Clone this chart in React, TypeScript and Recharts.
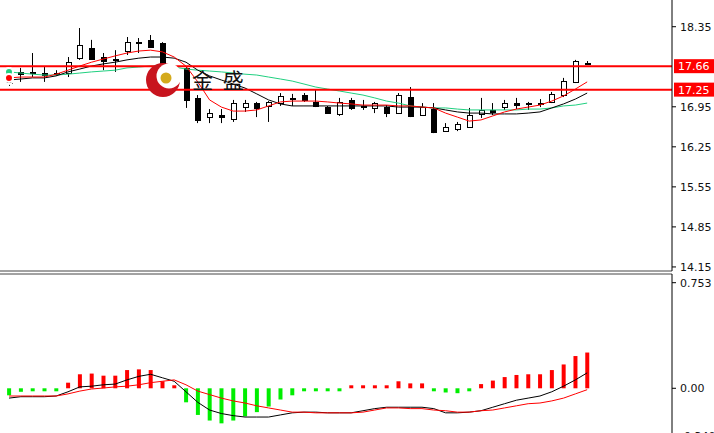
import React from 'react';
import { ComposedChart, Bar, Line, XAxis, YAxis, ReferenceLine, Cell } from 'recharts';

// OHLC, one entry per candle
const opens = [17.365, 17.56, 17.55, 17.54, 17.535, 17.54, 17.8, 17.98, 17.82, 17.785, 17.925, 18.075, 18.12, 18.065, 17.54, 17.63, 17.105, 16.77, 16.805, 16.735, 16.945, 17.015, 16.965, 17.015, 17.105, 17.155, 17.035, 16.945, 16.825, 17.07, 16.965, 16.93, 16.945, 16.84, 17.12, 16.805, 16.91, 16.525, 16.56, 16.595, 16.825, 16.895, 16.945, 17.015, 17.0, 17.01, 17.035, 17.155, 17.385, 17.715];
const highs = [17.645, 17.63, 17.89, 17.645, 17.59, 17.82, 18.327, 18.12, 17.89, 17.94, 18.17, 18.152, 18.205, 18.08, 17.645, 17.645, 17.155, 16.91, 16.91, 17.07, 17.07, 17.035, 17.05, 17.19, 17.175, 17.19, 17.245, 16.965, 17.105, 17.105, 17.07, 17.035, 16.98, 17.19, 17.295, 17.015, 17.015, 16.665, 16.685, 16.93, 17.105, 17.015, 17.07, 17.105, 17.035, 17.085, 17.21, 17.455, 17.77, 17.75];
const lows = [17.315, 17.385, 17.47, 17.385, 17.49, 17.47, 17.77, 17.77, 17.59, 17.56, 17.855, 17.89, 17.98, 17.505, 17.49, 16.93, 16.665, 16.665, 16.665, 16.685, 16.86, 16.77, 16.685, 16.965, 16.965, 17.035, 16.945, 16.825, 16.79, 16.895, 16.895, 16.84, 16.77, 16.835, 16.77, 16.8, 16.49, 16.51, 16.525, 16.58, 16.755, 16.805, 16.895, 16.91, 16.895, 16.945, 17.015, 17.12, 17.365, 17.68];
const closes = [17.54, 17.52, 17.53, 17.505, 17.545, 17.73, 18.03, 17.785, 17.75, 17.77, 18.08, 18.07, 17.995, 17.59, 17.59, 17.07, 16.72, 16.84, 16.77, 17.015, 17.015, 16.93, 17.035, 17.14, 17.085, 17.07, 16.965, 16.84, 17.035, 16.93, 16.945, 17.015, 16.84, 17.155, 16.79, 16.945, 16.51, 16.595, 16.65, 16.805, 16.895, 16.86, 17.015, 16.98, 17.01, 17.02, 17.175, 17.4, 17.75, 17.7];

// moving averages
const maRed = [17.455, 17.47, 17.47, 17.47, 17.52, 17.59, 17.663, 17.73, 17.785, 17.84, 17.89, 17.925, 17.94, 17.91, 17.82, 17.66, 17.385, 17.07, 16.945, 16.875, 16.875, 16.895, 16.965, 17.035, 17.05, 17.05, 17.05, 17.035, 17.015, 17.0, 16.98, 16.98, 16.98, 16.965, 16.965, 16.945, 16.93, 16.84, 16.77, 16.7, 16.72, 16.79, 16.86, 16.91, 16.945, 16.98, 17.05, 17.14, 17.26, 17.385];
const maBlack = [17.418, 17.436, 17.455, 17.455, 17.49, 17.56, 17.61, 17.663, 17.7, 17.73, 17.77, 17.8, 17.82, 17.82, 17.8, 17.73, 17.59, 17.49, 17.418, 17.348, 17.278, 17.175, 17.07, 17.0, 16.965, 16.965, 16.965, 16.965, 16.965, 16.965, 16.965, 16.965, 16.965, 16.945, 16.945, 16.945, 16.93, 16.895, 16.86, 16.84, 16.84, 16.825, 16.825, 16.825, 16.84, 16.86, 16.93, 17.0, 17.085, 17.19];
const maGreen = [17.56, 17.54, 17.52, 17.505, 17.505, 17.52, 17.54, 17.56, 17.575, 17.59, 17.63, 17.645, 17.663, 17.663, 17.645, 17.61, 17.59, 17.575, 17.56, 17.54, 17.52, 17.505, 17.47, 17.436, 17.4, 17.348, 17.295, 17.26, 17.226, 17.19, 17.155, 17.105, 17.05, 17.015, 16.965, 16.945, 16.93, 16.93, 16.91, 16.895, 16.895, 16.895, 16.895, 16.895, 16.91, 16.91, 16.93, 16.965, 16.98, 17.015];

// MACD panel
const macdHist = [-0.05, -0.025, -0.008, -0.008, -0.008, 0.04, 0.1, 0.105, 0.09, 0.09, 0.13, 0.135, 0.13, 0.05, 0.01, -0.1, -0.19, -0.23, -0.25, -0.23, -0.2, -0.17, -0.13, -0.08, -0.05, -0.01, -0.01, -0.015, -0.005, 0.005, 0.005, 0.02, 0.015, 0.05, 0.035, 0.035, -0.015, -0.03, -0.035, -0.01, 0.03, 0.055, 0.08, 0.095, 0.1, 0.1, 0.13, 0.17, 0.23, 0.255];
const macdLine = [-0.07, -0.06, -0.06, -0.06, -0.055, -0.025, 0.01, 0.015, 0.025, 0.03, 0.06, 0.085, 0.1, 0.075, 0.05, -0.025, -0.1, -0.155, -0.18, -0.195, -0.205, -0.205, -0.205, -0.19, -0.175, -0.17, -0.17, -0.175, -0.175, -0.175, -0.16, -0.145, -0.135, -0.135, -0.135, -0.135, -0.145, -0.175, -0.175, -0.17, -0.16, -0.135, -0.11, -0.085, -0.07, -0.055, -0.025, 0.015, 0.06, 0.11];
const macdSignal = [-0.055, -0.055, -0.055, -0.055, -0.055, -0.04, -0.02, -0.005, 0.002, 0.01, 0.015, 0.025, 0.04, 0.05, 0.06, 0.025, -0.02, -0.045, -0.07, -0.09, -0.105, -0.125, -0.14, -0.155, -0.17, -0.17, -0.175, -0.175, -0.175, -0.175, -0.17, -0.155, -0.14, -0.14, -0.145, -0.145, -0.155, -0.16, -0.17, -0.17, -0.16, -0.155, -0.14, -0.125, -0.11, -0.105, -0.09, -0.07, -0.04, -0.01];

const priceTicks = [14.15, 14.85, 15.55, 16.25, 16.95, 18.35];
const levelLines = [17.66, 17.25];
const macdTicks = [0.753, 0, -0.34];
const macdTickLabels = ['0.753', '0.00', '-0.340'];

const candles = opens.map((open, i) => ({
  i,
  open,
  high: highs[i],
  low: lows[i],
  close: closes[i],
  maRed: maRed[i],
  maBlack: maBlack[i],
  maGreen: maGreen[i],
}));

const macdRows = macdHist.map((hist, i) => ({ i, hist, macd: macdLine[i], signal: macdSignal[i] }));

const tickStyle = { fontFamily: 'DejaVu Sans', fontSize: 11, fill: '#111' };
const xDomain = [-0.763, 56.19];

const Candle = (props: any) => {
  const { x, y, width, height, payload } = props;
  if (!payload) return null;
  const { open, close, high, low } = payload;
  const h = Math.abs(height);
  const ratio = high - low > 0 ? h / (high - low) : 0;
  const cx = Math.round(x + width / 2) + 0.5;
  const yo = y + (high - open) * ratio;
  const yc = y + (high - close) * ratio;
  const top = Math.round(Math.min(yo, yc)) + 0.5;
  const bh = Math.max(Math.round(Math.abs(yo - yc)), 1);
  const bull = close >= open;
  return (
    <g>
      <line x1={cx} x2={cx} y1={y} y2={y + h} stroke="#000" strokeWidth={1} />
      <rect x={cx - 2} y={top} width={5} height={bh} fill={bull ? '#fff' : '#000'} stroke="#000" strokeWidth={1} />
    </g>
  );
};

const LevelLabel = (props: any) => {
  const { viewBox, value } = props;
  if (!viewBox) return null;
  const x = viewBox.x + viewBox.width + 2;
  return (
    <g>
      <rect x={x} y={viewBox.y - 7} width={44} height={14} fill="#ff0000" />
      <text x={x + 4} y={viewBox.y + 4} fill="#fff" style={{ fontFamily: 'DejaVu Sans', fontSize: 11 }}>
        {value}
      </text>
    </g>
  );
};

export default function App() {
  return (
    <div style={{ position: 'fixed', left: 0, top: 0, width: 714, height: 433, overflow: 'hidden', background: '#fff' }}>
      <div style={{ position: 'absolute', left: 0, top: 0 }}>
        <ComposedChart width={714} height={280} data={candles} margin={{ top: 0, right: 0, left: 0, bottom: 8 }}>
          <XAxis dataKey="i" type="number" domain={xDomain} allowDataOverflow tick={false} tickLine={false} height={1} axisLine={{ stroke: '#444', strokeWidth: 1 }} />
          <YAxis
            orientation="right"
            width={42}
            type="number"
            domain={[14.079, 18.817]}
            allowDataOverflow
            ticks={priceTicks}
            interval={0}
            tick={tickStyle}
            tickSize={4}
            tickMargin={4}
            tickFormatter={(v: number) => v.toFixed(2)}
            axisLine={{ stroke: '#000' }}
            tickLine={{ stroke: '#000' }}
          />
          <Bar dataKey={(d: any) => [d.low, d.high]} barSize={5} shape={(p: any) => <Candle {...p} />} isAnimationActive={false} />
          <Line type="linear" dataKey="maGreen" stroke="#20d080" strokeWidth={1} dot={false} isAnimationActive={false} />
          <Line type="linear" dataKey="maBlack" stroke="#000" strokeWidth={1} dot={false} isAnimationActive={false} />
          <Line type="linear" dataKey="maRed" stroke="#ff0000" strokeWidth={1} dot={false} isAnimationActive={false} />
          {levelLines.map((v) => (
            <ReferenceLine key={v} y={v} stroke="#ff0000" strokeWidth={2} label={<LevelLabel value={v.toFixed(2)} />} />
          ))}
        </ComposedChart>
      </div>
      <div style={{ position: 'absolute', left: 0, top: 272 }}>
        <ComposedChart width={714} height={170} data={macdRows} margin={{ top: 1, right: 0, left: 0, bottom: 0 }}>
          <XAxis dataKey="i" type="number" orientation="top" domain={xDomain} allowDataOverflow tick={false} tickLine={false} height={1} axisLine={{ stroke: '#444', strokeWidth: 1 }} />
          <YAxis
            orientation="right"
            width={42}
            type="number"
            domain={[-0.383, 0.815]}
            allowDataOverflow
            ticks={macdTicks}
            interval={0}
            tick={tickStyle}
            tickSize={4}
            tickMargin={4}
            tickFormatter={(v: number) => macdTickLabels[macdTicks.indexOf(v)] ?? String(v)}
            axisLine={{ stroke: '#000' }}
            tickLine={{ stroke: '#000' }}
          />
          <Bar dataKey="hist" barSize={4} minPointSize={3} isAnimationActive={false}>
            {macdRows.map((r) => (
              <Cell key={r.i} fill={r.hist >= 0 ? '#ff0000' : '#00ee00'} />
            ))}
          </Bar>
          <Line type="linear" dataKey="macd" stroke="#000" strokeWidth={1} dot={false} isAnimationActive={false} />
          <Line type="linear" dataKey="signal" stroke="#ff0000" strokeWidth={1} dot={false} isAnimationActive={false} />
        </ComposedChart>
      </div>
      <svg width={714} height={433} style={{ position: 'absolute', left: 0, top: 0, pointerEvents: 'none' }}>
        <circle cx={163} cy={80} r={17} fill="#c8141e" />
        <circle cx={169} cy={76} r={12.5} fill="#fff" />
        <circle cx={166} cy={78} r={5.5} fill="#d4aa1c" />
        <text x={192} y={88} fill="#111" letterSpacing={2.5} style={{ fontFamily: 'Noto Sans CJK SC', fontSize: 21 }}>
          金 盛
        </text>
      </svg>
    </div>
  );
}
